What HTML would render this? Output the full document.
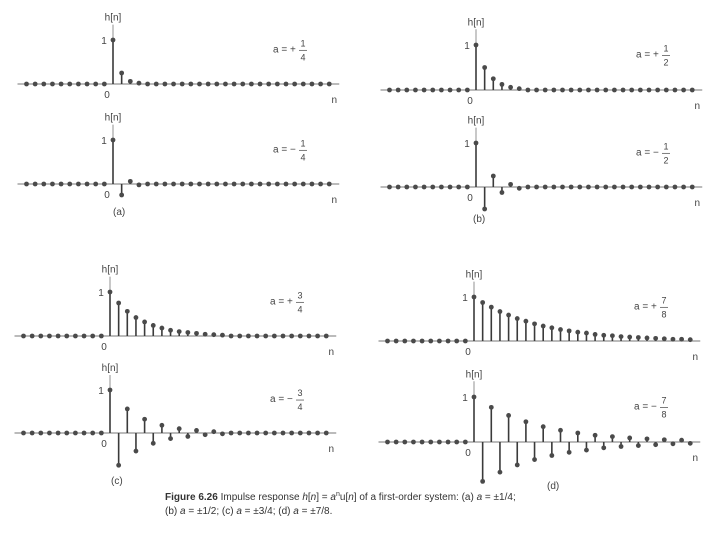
<!DOCTYPE html>
<html><head><meta charset="utf-8"><style>
body{margin:0;background:#fff}
svg{display:block;font-family:"Liberation Sans",sans-serif}
</style></head><body>
<svg id="fig" width="720" height="540" viewBox="0 0 720 540">
<g id="plots"></g>
<text x="113" y="215" font-size="10" fill="#444">(a)</text>
<text x="473" y="222" font-size="10" fill="#444">(b)</text>
<text x="111" y="484" font-size="10" fill="#444">(c)</text>
<text x="547" y="489" font-size="10" fill="#444">(d)</text>
<text x="165" y="500" font-size="10" fill="#333"><tspan font-weight="bold">Figure 6.26</tspan>   Impulse response <tspan font-style="italic">h</tspan>[<tspan font-style="italic">n</tspan>] = <tspan font-style="italic">a</tspan><tspan font-size="7" dy="-4">n</tspan><tspan dy="4">u</tspan>[<tspan font-style="italic">n</tspan>] of a first-order system: (a) <tspan font-style="italic">a</tspan> = ±1/4;</text>
<text x="165" y="514" font-size="10" fill="#333">(b) <tspan font-style="italic">a</tspan> = ±1/2; (c) <tspan font-style="italic">a</tspan> = ±3/4; (d) <tspan font-style="italic">a</tspan> = ±7/8.</text>
</svg>
<script>
const nStart = -10;
const nEnd = 25;
const valsAPos = [1,0.25,0.06,0.02];
const valsANeg = [1,-0.25,0.06,-0.02];
const valsBPos = [1,0.5,0.25,0.125,0.06,0.03];
const valsBNeg = [1,-0.5,0.25,-0.125,0.06,-0.03];
const valsCPos = [1,0.75,0.56,0.42,0.32,0.24,0.18,0.13,0.1,0.08,0.06,0.04,0.03,0.02];
const valsCNeg = [1,-0.75,0.56,-0.42,0.32,-0.24,0.18,-0.13,0.1,-0.08,0.06,-0.04,0.03,-0.02];
const valsDPos = [1,0.875,0.77,0.67,0.59,0.51,0.45,0.39,0.34,0.3,0.26,0.23,0.2,0.18,0.15,0.13,0.12,0.1,0.09,0.08,0.07,0.06,0.05,0.04,0.04,0.03];
const valsDNeg = [1,-0.875,0.77,-0.67,0.59,-0.51,0.45,-0.39,0.34,-0.3,0.26,-0.23,0.2,-0.18,0.15,-0.13,0.12,-0.1,0.09,-0.08,0.07,-0.06,0.05,-0.04,0.04,-0.03];
const signs = ["+","−","+","−","+","−","+","−"];
const numer = ["1","1","1","1","3","3","7","7"];
const denom = ["4","4","2","2","4","4","8","8"];
const series = [valsAPos,valsANeg,valsBPos,valsBNeg,valsCPos,valsCNeg,valsDPos,valsDNeg];
const names = ["a-pos","a-neg","b-pos","b-neg","c-pos","c-neg","d-pos","d-neg"];
const layout = [
 {x0:113,base:84,amp:44},{x0:113,base:184,amp:44},
 {x0:476,base:90,amp:45},{x0:476,base:187,amp:44},
 {x0:110,base:336,amp:44},{x0:110,base:433,amp:43},
 {x0:474,base:341,amp:44},{x0:474,base:442,amp:45}];
const dx = 8.65;
const NS="http://www.w3.org/2000/svg";
const root=document.getElementById('plots');
function mk(tag,attrs,parent){const e=document.createElementNS(NS,tag);for(const k in attrs)e.setAttribute(k,attrs[k]);parent.appendChild(e);return e;}
series.forEach((vals,i)=>{
 const L=layout[i];
 const xs=n=>L.x0+n*dx;
 const ys=v=>L.base-v*L.amp;
 const g=mk('g',{},root);
 
 
 const ax=mk('line',{x1:xs(nStart)-9,x2:xs(nEnd)+10,y1:L.base,y2:L.base,stroke:'#777','stroke-width':1},g);
 
 
 const vax=mk('line',{x1:L.x0,x2:L.x0,y1:L.base,y2:L.base-L.amp*1.35,stroke:'#777','stroke-width':0.8},g);
 
 
 const t=(x,y,s,nm,fs)=>{const e=mk('text',{x:x,y:y,'font-size':fs||10,fill:'#444','text-anchor':'middle'},g);e.textContent=s;return e;};
 t(L.x0,L.base-L.amp*1.35-4,'h[n]','h-axis-title');
 t(L.x0-9,ys(1)+4,'1','tick-label-1');
 t(L.x0-6,L.base+14,'0','tick-label-0');
 t(xs(nEnd)+5,L.base+19,'n','n-axis-title');
 const lx=L.x0+160;
 const lab=mk('text',{x:lx,y:L.base-L.amp*0.72,'font-size':10,fill:'#444'},g);
 lab.textContent='a = '+signs[i];
 
 
 t(lx+30,L.base-L.amp*0.72-6,numer[i],'fraction-numerator',9);
 t(lx+30,L.base-L.amp*0.72+8,denom[i],'fraction-denominator',9);
 mk('line',{x1:lx+26,x2:lx+34,y1:L.base-L.amp*0.72-2,y2:L.base-L.amp*0.72-2,stroke:'#444','stroke-width':0.7},g);
 for(let n=nStart;n<=nEnd;n++){
  const v=n<0?0:(vals[n]||0);
  if(v!==0){
   const s=mk('line',{x1:xs(n),x2:xs(n),y1:L.base,y2:ys(v),stroke:'#3a3a3a','stroke-width':1.6},g);
   
   
  }
  const c=mk('circle',{cx:xs(n),cy:ys(v),r:2.4,fill:'#4a4a4a'},g);
  
  
 }
});
</script>
</body></html>
